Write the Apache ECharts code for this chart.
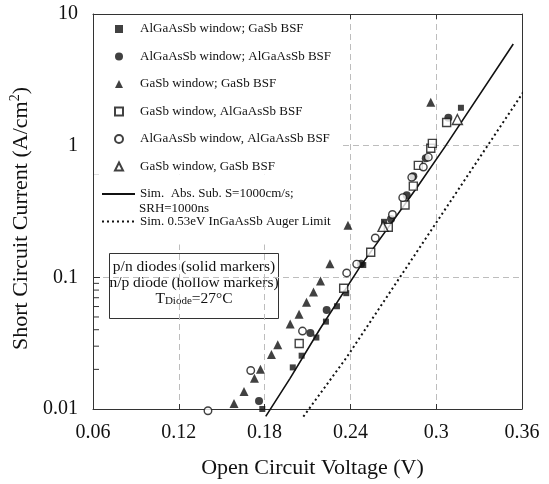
<!DOCTYPE html>
<html>
<head>
<meta charset="utf-8">
<script src="https://cdn.jsdelivr.net/npm/echarts@6/dist/echarts.min.js"></script>
<style>
  html, body { margin: 0; padding: 0; background: #fff; }
  #chart { width: 549px; height: 484px; }
</style>
</head>
<body>
<div id="chart"></div>
<script>
// axis ranges and tick labels
const xMin = 0.06, xMax = 0.36, xStep = 0.06;
const yMin = 0.01, yMax = 10;
const xTickLabels = ['0.06', '0.12', '0.18', '0.24', '0.3', '0.36'];
const yTickLabels = ['0.01', '0.1', '1', '10'];
const yMinorTicks = [0.02, 0.03, 0.04, 0.05, 0.06, 0.07, 0.08, 0.09,
                     0.2, 0.3, 0.4, 0.5, 0.6, 0.7, 0.8, 0.9,
                     2, 3, 4, 5, 6, 7, 8, 9];

// [Voc (V), Jsc (A/cm2)]
const algaWinGasbBsf = [[0.1784, 0.0100], [0.1997, 0.0207], [0.2059, 0.0254], [0.2162, 0.0349],
  [0.2229, 0.0461], [0.2306, 0.0603], [0.2371, 0.0758], [0.2490, 0.124], [0.2635, 0.264], [0.3173, 1.94]];
const algaWinAlgaBsf = [[0.1761, 0.0115], [0.2120, 0.0378], [0.2234, 0.0565], [0.2474, 0.127],
  [0.2684, 0.277], [0.2794, 0.421], [0.2840, 0.586], [0.2927, 0.804], [0.3085, 1.63]];
const gasbWinGasbBsf = [[0.1586, 0.0110], [0.1656, 0.0136], [0.1729, 0.0171], [0.1771, 0.0200],
  [0.1848, 0.0259], [0.1892, 0.0307], [0.1979, 0.0442], [0.2041, 0.0525], [0.2093, 0.0646],
  [0.2142, 0.0774], [0.2191, 0.0936], [0.2257, 0.127], [0.2383, 0.249], [0.2962, 2.14]];
const gasbWinAlgaBsfNp = [[0.2042, 0.0314], [0.2353, 0.0826], [0.2542, 0.155], [0.2665, 0.240],
  [0.2782, 0.354], [0.2840, 0.493], [0.2875, 0.708], [0.2962, 0.955], [0.2973, 1.04], [0.3073, 1.50]];
const algaWinAlgaBsfNp = [[0.1404, 0.0097], [0.1703, 0.0196], [0.2065, 0.0391], [0.2374, 0.108],
  [0.2444, 0.126], [0.2574, 0.199], [0.2694, 0.300], [0.2766, 0.403], [0.2829, 0.575],
  [0.2910, 0.688], [0.2945, 0.818]];
const gasbWinGasbBsfNp = [[0.2628, 0.244], [0.3148, 1.58]];

const simAbsSub = [[0.1808, 0.0088], [0.1978, 0.0171], [0.2187, 0.0405], [0.2467, 0.120],
  [0.2864, 0.479], [0.3062, 0.983], [0.3539, 5.92]];
const simAuger = [[0.2071, 0.00875], [0.2374, 0.0247], [0.2933, 0.202], [0.3614, 2.6]];

const markerNames = [
  'AlGaAsSb window; GaSb BSF',
  'AlGaAsSb window; AlGaAsSb BSF',
  'GaSb window; GaSb BSF',
  'GaSb window, AlGaAsSb BSF',
  'AlGaAsSb window, AlGaAsSb BSF',
  'GaSb window, GaSb BSF'
];
const lineNames = ['Sim.  Abs. Sub. S=1000cm/s;', 'Sim. 0.53eV InGaAsSb Auger Limit'];
const symbols = ['rect', 'circle', 'triangle', 'rect', 'circle', 'triangle'];

const serif = "'Liberation Serif', 'Times New Roman', serif";
const ink = '#111';

function solid(name, data, symbol, size) {
  return { name, type: 'scatter', data, symbol, symbolSize: size, clip: false,
    itemStyle: { color: ink } };
}
function hollow(name, data, symbol, size) {
  return { name, type: 'scatter', data, symbol, symbolSize: size, clip: false,
    itemStyle: { color: '#fff', borderColor: ink, borderWidth: 1.4 } };
}

const legendText = { fontFamily: serif, fontSize: 13, color: ink, lineHeight: 16 };

const chart = echarts.init(document.getElementById('chart'));
const option = {
  animation: false,
  textStyle: { fontFamily: serif, color: ink },
  grid: { left: 93, right: 27, top: 14, bottom: 70 },
  legend: [
    {
      data: markerNames,
      orient: 'vertical',
      left: 94, top: 15,
      padding: [6, 10, 0, 20],
      itemWidth: 8, itemHeight: 8, itemGap: 11.5,
      backgroundColor: '#fff',
      textStyle: Object.assign({ padding: [0, 0, 0, 12] }, legendText)
    },
    {
      data: lineNames.map(n => ({ name: n, itemStyle: { opacity: 0 } })),
      orient: 'vertical',
      left: 94, top: 174.5,
      padding: [11.5, 10, 15, 7],
      itemWidth: 33, itemHeight: 8, itemGap: 11.5,
      backgroundColor: '#fff',
      textStyle: legendText
    }
  ],
  xAxis: [
    {
      type: 'value', min: xMin, max: xMax, interval: xStep,
      axisLine: { lineStyle: { color: '#333', width: 1 } },
      axisTick: { inside: true, length: 5, lineStyle: { color: '#333' } },
      axisLabel: { fontSize: 20, color: ink, margin: 14, fontFamily: serif,
        formatter: (v, i) => xTickLabels[i] },
      splitLine: { show: true, showMinLine: false, showMaxLine: false,
        lineStyle: { type: [6, 4], color: '#bdbdbd', width: 1 } },
      name: 'Open Circuit Voltage (V)', nameLocation: 'middle', nameGap: 48,
      nameTextStyle: { fontSize: 22, color: ink, fontFamily: serif, padding: [0, 0, 0, 10] }
    },
    {
      type: 'value', min: xMin, max: xMax, interval: xStep, position: 'top',
      axisLine: { lineStyle: { color: '#333', width: 1 } },
      axisTick: { inside: true, length: 5, lineStyle: { color: '#333' } },
      axisLabel: { show: false },
      splitLine: { show: false }
    }
  ],
  yAxis: [
    {
      type: 'log', logBase: 10, min: yMin, max: yMax,
      axisLine: { lineStyle: { color: '#333', width: 1 } },
      axisTick: { inside: true, length: 7, lineStyle: { color: '#333' } },
      axisLabel: { fontSize: 20, color: ink, margin: 15, fontFamily: serif,
        formatter: (v, i) => yTickLabels[i] },
      splitLine: { show: true, showMinLine: false, showMaxLine: false,
        lineStyle: { type: [6, 4], color: '#bdbdbd', width: 1 } },
      name: '{t|Short Circuit Current (A/cm}{s|2}{t|)}',
      nameLocation: 'middle', nameRotate: 90, nameGap: 50,
      nameTextStyle: {
        padding: [0, 14, 0, 0],
        rich: {
          t: { fontSize: 22, fontFamily: serif, color: ink, lineHeight: 26 },
          s: { fontSize: 14, fontFamily: serif, color: ink, verticalAlign: 'top', lineHeight: 14 }
        }
      }
    },
    {
      type: 'log', logBase: 10, min: yMin, max: yMax, position: 'right',
      axisLine: { show: true, lineStyle: { color: '#333', width: 1 } },
      axisTick: { show: false },
      axisLabel: { show: false },
      splitLine: { show: false }
    }
  ],
  graphic: [
    {
      type: 'text', left: 139, top: 202, z: 10,
      style: { text: 'SRH=1000ns', font: '13px ' + serif, fill: ink }
    },
    {
      type: 'group', left: 109, top: 253, z: 10,
      children: [
        { type: 'rect', shape: { x: 0, y: 0, width: 169, height: 65 },
          style: { fill: '#fff', stroke: '#333', lineWidth: 1 } },
        { type: 'text', x: 84.5, y: 5.5,
          style: {
            text: '{a|p/n diodes (solid markers)}\n{a|n/p diode (hollow markers)}\n{a|T}{sub|Diode}{a|=27°C}',
            align: 'center',
            rich: {
              a: { fontSize: 15.5, fontFamily: serif, fill: ink, lineHeight: 16 },
              sub: { fontSize: 11, fontFamily: serif, fill: ink, verticalAlign: 'bottom', lineHeight: 4 }
            }
          }
        }
      ]
    }
  ],
  series: [
    solid(markerNames[0], algaWinGasbBsf, symbols[0], 6),
    solid(markerNames[1], algaWinAlgaBsf, symbols[1], 8),
    solid(markerNames[2], gasbWinGasbBsf, symbols[2], 9),
    hollow(markerNames[3], gasbWinAlgaBsfNp, symbols[3], 8),
    hollow(markerNames[4], algaWinAlgaBsfNp, symbols[4], 7.5),
    hollow(markerNames[5], gasbWinGasbBsfNp, symbols[5], 10),
    { name: lineNames[0], type: 'line', data: simAbsSub, symbol: 'none', clip: false,
      lineStyle: { color: ink, width: 1.6 }, itemStyle: { color: ink }, z: 1 },
    { name: lineNames[1], type: 'line', data: simAuger, symbol: 'none', clip: false,
      lineStyle: { color: ink, width: 2, type: [2, 3] }, itemStyle: { color: ink }, z: 1 },
    {
      name: 'minorTicks', type: 'custom', silent: true, clip: false,
      data: yMinorTicks.map(v => [xMin, v]),
      renderItem: (params, api) => {
        const p = api.coord([api.value(0), api.value(1)]);
        return { type: 'line', shape: { x1: p[0], y1: p[1], x2: p[0] + 6, y2: p[1] },
          style: { stroke: '#333', lineWidth: 1 } };
      }
    }
  ]
};
chart.setOption(option);
</script>
</body>
</html>
